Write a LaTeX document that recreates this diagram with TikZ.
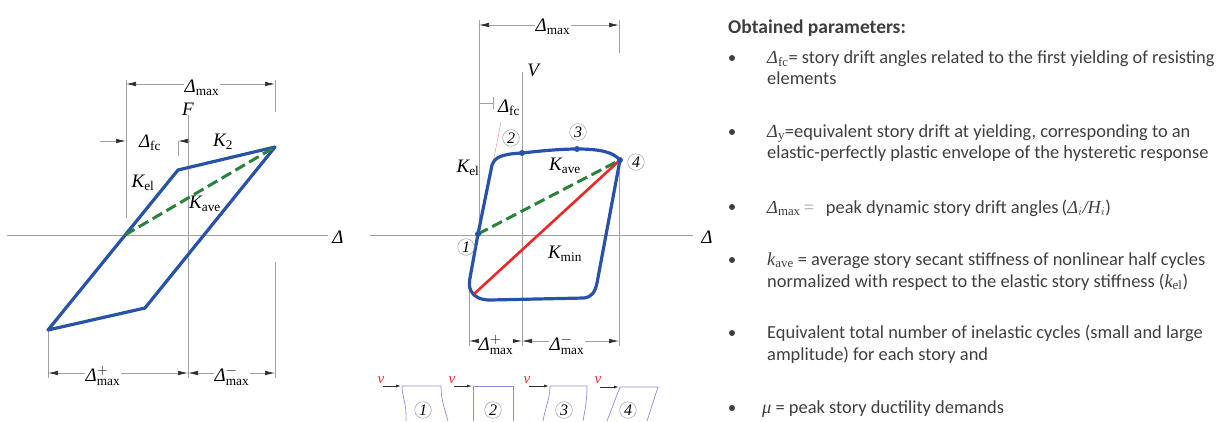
\documentclass[tikz,border=0pt]{standalone}
\usepackage{fontspec}
\setmainfont{Liberation Serif}
\newfontfamily\txtfont{Carlito}
\usetikzlibrary{arrows.meta}

\definecolor{loopblue}{RGB}{40,82,170}
\definecolor{avegreen}{RGB}{40,130,60}
\definecolor{minred}{RGB}{235,40,40}
\definecolor{gridgray}{RGB}{160,160,160}
\definecolor{tipdark}{RGB}{45,45,45}
\definecolor{txtgray}{RGB}{62,62,62}
\definecolor{iconblue}{RGB}{140,140,220}

\newcommand{\lsub}[2]{{\rmfamily\itshape #1}\ensuremath{_{\mathrm{#2}}}}
\newcommand{\lsup}[3]{{\rmfamily\itshape #1}\ensuremath{^{\mathrm{#2}}_{\mathrm{#3}}}}

\tikzset{
  guide/.style={draw=gridgray, line width=0.6pt},
  dimline/.style={draw=gridgray, line width=0.7pt},
  dimtip/.style={{Latex[length=10pt,width=4.5pt,color=tipdark]}-{Latex[length=10pt,width=4.5pt,color=tipdark]}},
  sidetip/.style={-{Latex[length=10pt,width=4.5pt,color=tipdark]}},
  curve/.style={draw=loopblue, line width=3.2pt, line join=round},
  aveline/.style={draw=avegreen, line width=3pt, dash pattern=on 11pt off 5pt},
  minline/.style={draw=minred, line width=2.6pt},
  lbl/.style={font=\fontsize{19}{22}\selectfont, inner sep=1pt},
  lblw/.style={lbl, fill=white, inner sep=0.5pt},
  stage/.style={circle, draw=gridgray, line width=0.5pt, inner sep=1.2pt, font=\fontsize{16}{16}\selectfont\itshape},
  txt/.style={font=\txtfont\fontsize{18.4}{22}\selectfont, text=txtgray, anchor=base west, inner sep=0pt},
  dot/.style={fill=#1, circle, inner sep=0pt, minimum size=6pt}
}

\begin{document}
\begin{tikzpicture}[x=1pt, y=-1pt]
        \useasboundingbox (0,0) rectangle (1218,421);

        % Left diagram: bilinear loop
        \coordinate (lA) at (48,330);
        \coordinate (lB) at (178,170);
        \coordinate (lC) at (275,147);
        \coordinate (lD) at (145,308);
        \coordinate (lO) at (125,235);
        \draw[guide] (7,235) -- (328,235);
        \draw[guide] (188,115) -- (188,378);
        \draw[guide] (126,80) -- (126,218);
        \draw[guide] (275,80) -- (275,112);
        \draw[guide] (275,262) -- (275,378);
        \draw[guide] (48,330) -- (48,378);
        \draw[guide] (178,141) -- (178,156);
        \node[lbl] (lF) at (188,109) {\textit{F}};
        \node[lbl] (lDelta) at (338,237) {\textit{Δ}};

        \draw[curve] (lA) -- (lB) -- (lC) -- (lD) -- cycle;
        \draw[aveline] (lO) -- (lC);

        % Left dimensions
        \draw[dimline, dimtip] (126,84) -- (275,84);
        \node[lblw] (lmax) at (202,88) {\lsub{Δ}{max}};
        \draw[dimline, sidetip] (100,141) -- (126,141);
        \draw[dimline, sidetip] (190,141) -- (178,141);
        \node[lbl] (lfc) at (150,143) {\lsub{Δ}{fc}};
        \node[lbl] (lK2) at (223,142) {\lsub{K}{2}};
        \node[lbl] (lKel) at (143,183) {\lsub{K}{el}};
        \node[lbl] (lKave) at (205,204) {\lsub{K}{ave}};
        \draw[dimline, dimtip] (48,373) -- (188,373);
        \draw[dimline, dimtip] (188,373) -- (275,373);
        \node[lblw] (lplus) at (103,376) {\lsup{Δ}{+}{max}};
        \node[lblw] (lminus) at (232,376) {\lsup{Δ}{-}{max}};

        % Middle diagram: hysteretic loop
        \coordinate (m1) at (478,234);
        \coordinate (m2) at (522,153);
        \coordinate (m3) at (577,149);
        \coordinate (m4) at (620,160);
        \coordinate (mlow) at (474,294);
        \draw[guide] (370,235) -- (693,235);
        \draw[guide] (522,72) -- (522,346);
        \draw[guide] (479,20) -- (479,234);
        \draw[guide] (619,20) -- (619,53);
        \draw[guide] (619,160) -- (619,346);
        \draw[guide] (469,287) -- (469,346);
        \draw[guide] (493,97) -- (493,109);
        \draw[minred!60, line width=0.4pt] (493,163) -- (501,122);
        \node[lbl] (mV) at (534,70) {\textit{V}};
        \node[lbl] (mDelta) at (707,237) {\textit{Δ}};

        \draw[curve] (m1) -- (492,165) .. controls (495,157) and (502,154) .. (m2)
          .. controls (540,151) and (560,149) .. (m3)
          .. controls (600,149) and (613,152) .. (m4)
          -- (597,283) .. controls (595,292) and (592,297) .. (584,298)
          -- (490,300) .. controls (481,300) and (474,297) .. (471,291)
          .. controls (469,287) and (469,283) .. (470,278) -- cycle;
        \draw[aveline] (m1) -- (m4);
        \draw[minline] (mlow) -- (m4);
        \foreach \p in {m1, m2, m3, m4}
            \node[dot=loopblue] at (\p) {};

        \node[stage] (s1) at (466,247) {1};
        \node[stage] (s2) at (511,138) {2};
        \node[stage] (s3) at (578,132) {3};
        \node[stage] (s4) at (636,162) {4};
        \node[lbl] (mKel) at (468,168) {\lsub{K}{el}};
        \node[lbl] (mKave) at (565,166) {\lsub{K}{ave}};
        \node[lbl] (mKmin) at (565,254) {\lsub{K}{min}};

        % Middle dimensions
        \draw[dimline, dimtip] (479,25) -- (619,25);
        \node[lblw] (mmax) at (553,27) {\lsub{Δ}{max}};
        \draw[dimline] (479,103) -- (493,103);
        \node[lbl] (mfc) at (509,108) {\lsub{Δ}{fc}};
        \draw[dimline, dimtip] (469,341) -- (522,341);
        \draw[dimline, dimtip] (522,341) -- (619,341);
        \node[lblw, inner sep=0pt] (mplus) at (496,345) {\lsup{Δ}{+}{max}};
        \node[lblw] (mminus) at (567,345) {\lsup{Δ}{-}{max}};

        % Deformed shapes of the story
        \foreach \x/\n in {381/1, 452/2, 527/3, 598/4} {
            \node[lbl, text=minred, font=\fontsize{15}{15}\selectfont\itshape] (v\n) at (\x,380) {v};
        }
        \draw[draw=tipdark, line width=0.8pt, -{Latex[length=5pt,width=3pt]}] (383,386) -- (401,386);
        \draw[draw=tipdark, line width=0.8pt, -{Latex[length=5pt,width=3pt]}] (454,386) -- (472,386);
        \draw[draw=tipdark, line width=0.8pt, -{Latex[length=5pt,width=3pt]}] (529,386) -- (549,386);
        \draw[draw=tipdark, line width=0.8pt, -{Latex[length=5pt,width=3pt]}] (600,387) -- (619,387);
        \draw[iconblue, line width=0.7pt] (406,421) .. controls (407,404) and (402,397) .. (402,386) -- (441,386)
          .. controls (441,400) and (445,410) .. (448,421);
        \draw[iconblue, line width=0.7pt] (473,421) -- (473,386) -- (513,386) -- (513,421);
        \draw[iconblue, line width=0.7pt] (543,421) .. controls (546,405) and (550,398) .. (550,386) -- (587,386)
          .. controls (587,400) and (585,410) .. (583,421);
        \draw[iconblue, line width=0.7pt] (607,421) -- (620,387) -- (658,387) -- (647,421);
        \node[stage] (i1) at (423,410) {1};
        \node[stage] (i2) at (493,410) {2};
        \node[stage] (i3) at (564,410) {3};
        \node[stage] (i4) at (628,410) {4};

        % Obtained parameters
        \node[txt, font=\txtfont\bfseries\fontsize{19.5}{22}\selectfont] (head) at (728,33) {Obtained parameters:};
        \foreach \y in {58, 132, 207, 260, 333, 408}
            \fill[txtgray] (732,\y) circle (3);
        \node[txt] (p1) at (767,63) {\lsub{Δ}{fc}= story drift angles related to the first yielding of resisting};
        \node[txt] (p1b) at (767,84) {elements};
        \node[txt] (p2) at (767,137) {\lsub{Δ}{y}=equivalent story drift at yielding, corresponding to an};
        \node[txt] (p2b) at (767,158) {elastic-perfectly plastic envelope of the hysteretic response};
        \node[txt] (p3) at (767,213) {\lsub{Δ}{max}\,{\rmfamily\color{gridgray} = }\, peak dynamic story drift angles\,({\rmfamily\itshape Δ\ensuremath{_{i}}/H\ensuremath{_{i}}})};
        \node[txt] (p4) at (767,265) {\lsub{k}{ave} = average story secant stiffness of nonlinear half cycles};
        \node[txt] (p4b) at (767,287) {normalized with respect to the elastic story stiffness (\lsub{k}{el})};
        \node[txt] (p5) at (767,338) {Equivalent total number of inelastic cycles (small and large};
        \node[txt] (p5b) at (767,360) {amplitude) for each story and};
        \node[txt] (p6) at (762,413) {{\rmfamily\itshape μ} = peak story ductility demands};
    \end{tikzpicture}
\end{document}
